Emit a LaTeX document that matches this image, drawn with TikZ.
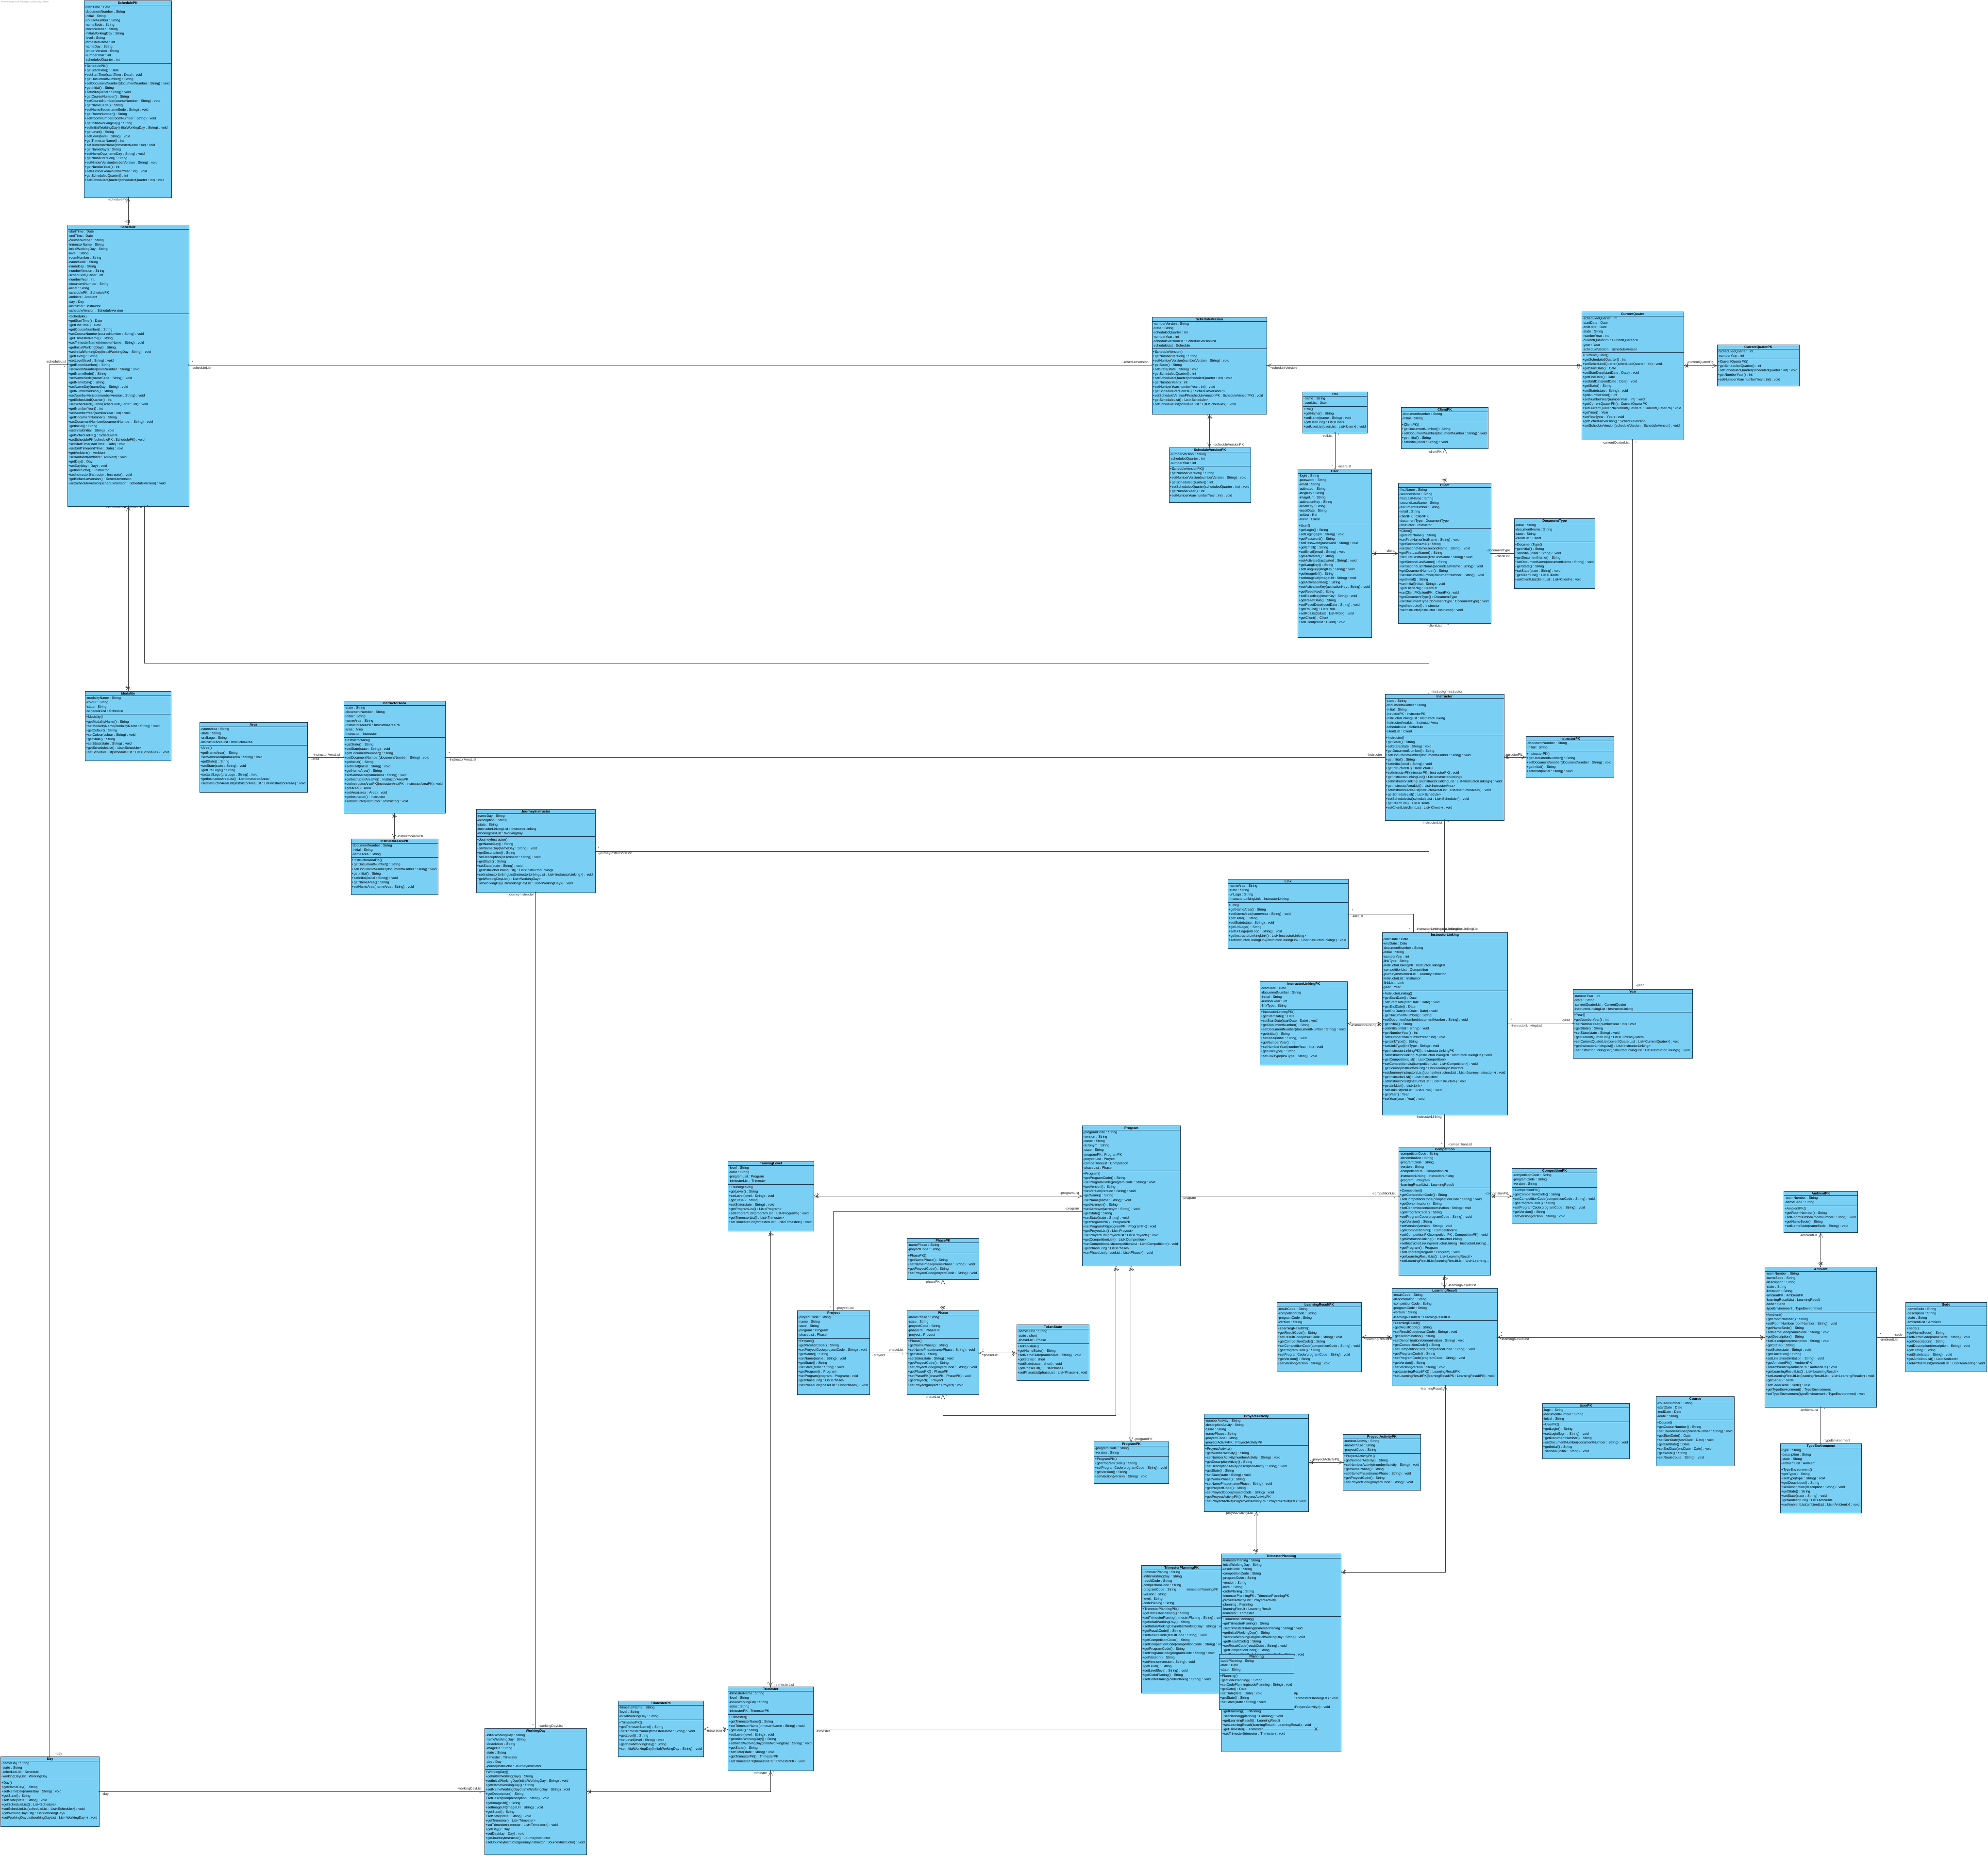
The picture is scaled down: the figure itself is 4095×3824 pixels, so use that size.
\documentclass[tikz,border=0pt]{standalone}
\usepackage{fontspec}
\setmainfont{Liberation Sans}
\usetikzlibrary{arrows.meta,calc,decorations.markings}
\definecolor{classfill}{HTML}{7ACFF5}
\definecolor{classline}{HTML}{1D3A55}
\definecolor{wire}{HTML}{3A3A3A}
\newcommand\umlfont{\fontsize{7}{9.05}\selectfont}
\newcommand\umlbold{\fontsize{7}{9.05}\selectfont\bfseries}
\tikzset{
  classbox/.style={draw=classline, fill=classfill, line width=0.9pt, inner sep=0pt, outer sep=0pt, anchor=north west},
  rule/.style={draw=classline, line width=0.7pt},
  txt/.style={font=\umlfont, align=left, inner sep=0pt, anchor=north west, text=black},
  ttl/.style={font=\umlbold, inner sep=0pt, anchor=base, text=black},
  lbl/.style={font=\umlfont, inner sep=0pt, text=black!85},
  wirestyle/.style={draw=wire, line width=0.7pt},
  dotS/.style={postaction={decorate, decoration={markings, mark=at position 0pt with {\fill[wire] (0pt,0pt) circle (1.7pt);}}}},
  dotE/.style={postaction={decorate, decoration={markings, mark=at position 0.99999 with {\fill[wire] (0pt,0pt) circle (1.7pt);}}}},
  crossS/.style={postaction={decorate, decoration={markings, mark=at position 6.5pt with {\draw[wire, line width=0.7pt] (-3pt,-4pt) -- (3pt,4pt) (-3pt,4pt) -- (3pt,-4pt);}}}},
  crossE/.style={postaction={decorate, decoration={markings, mark=at position -6.5pt with {\draw[wire, line width=0.7pt] (-3pt,-4pt) -- (3pt,4pt) (-3pt,4pt) -- (3pt,-4pt);}}}},
  barbS/.style={arrows={Straight Barb[length=9pt,width=8pt]-}},
  barbE/.style={arrows={-Straight Barb[length=9pt,width=8pt]}},
}
% id, x, y, width, height, number of attributes, title, attributes, operations
\newcommand{\umlclass}[9]{%
  \node[classbox, minimum width=#4pt, minimum height=#5pt] (#1) at (#2,#3) {};
  \node[ttl] (#1-t) at ({#2+#4/2},{#3+7.1}) {#7};
  \draw[rule] (#2,{#3+9}) -- ++(#4,0);
  \node[txt] (#1-a) at ({#2+1.5},{#3+9.7}) {\strut#8};
  \draw[rule] (#2,{#3+11.5+#6*9.05}) -- ++(#4,0);
  \node[txt] (#1-m) at ({#2+1.5},{#3+13.2+#6*9.05}) {\strut#9};
}
\newcommand{\lb}[4]{\node[lbl, anchor=#2] (#1) at (#3) {#4};}
\begin{document}
\begin{tikzpicture}[x=1pt,y=-1pt]
\fill[white] (0,0) rectangle (4095,3824);
\useasboundingbox (0,0) rectangle (4095,3824);

\node[font=\fontsize{4.6}{5}\selectfont, text=black!40, inner sep=0pt, anchor=north west] (mark) at (2,2) {Powered ByVisual Paradigm Community Edition};

% ---------------- classes ----------------
\umlclass{spk}{173}{1}{180}{406}{13}{SchedulePK}{-startTime : Date\\-documentNumber : String\\-initial : String\\-courseNumber : String\\-nameSede : String\\-roomNumber : String\\-initialWorkingDay : String\\-level : String\\-trimesterName : int\\-nameDay : String\\-nmberVersion : String\\-numberYear : int\\-scheduledQuarter : int}{+SchedulePK()\\+getStartTime() : Date\\+setStartTime(startTime : Date) : void\\+getDocumentNumber() : String\\+setDocumentNumber(documentNumber : String) : void\\+getInitial() : String\\+setInitial(initial : String) : void\\+getCourseNumber() : String\\+setCourseNumber(courseNumber : String) : void\\+getNameSede() : String\\+setNameSede(nameSede : String) : void\\+getRoomNumber() : String\\+setRoomNumber(roomNumber : String) : void\\+getInitialWorkingDay() : String\\+setInitialWorkingDay(initialWorkingDay : String) : void\\+getLevel() : String\\+setLevel(level : String) : void\\+getTrimesterName() : int\\+setTrimesterName(trimesterName : int) : void\\+getNameDay() : String\\+setNameDay(nameDay : String) : void\\+getNmberVersion() : String\\+setNmberVersion(nmberVersion : String) : void\\+getNumberYear() : int\\+setNumberYear(numberYear : int) : void\\+getScheduledQuarter() : int\\+setScheduledQuarter(scheduledQuarter : int) : void}

\umlclass{sch}{139}{463}{250}{580}{19}{Schedule}{-startTime : Date\\-endTime : Date\\-courseNumber : String\\-trimesterName : String\\-initialWorkingDay : String\\-level : String\\-roomNumber : String\\-nameSede : String\\-nameDay : String\\-numberVersion : String\\-scheduledQuarter : int\\-numberYear : int\\-documentNumber : String\\-initial : String\\-schedulePK : SchedulePK\\-ambient : Ambient\\-day : Day\\-instructor : Instructor\\-scheduleVersion : ScheduleVersion}{+Schedule()\\+getStartTime() : Date\\+getEndTime() : Date\\+getCourseNumber() : String\\+setCourseNumber(courseNumber : String) : void\\+getTrimesterName() : String\\+setTrimesterName(trimesterName : String) : void\\+getInitialWorkingDay() : String\\+setInitialWorkingDay(initialWorkingDay : String) : void\\+getLevel() : String\\+setLevel(level : String) : void\\+getRoomNumber() : String\\+setRoomNumber(roomNumber : String) : void\\+getNameSede() : String\\+setNameSede(nameSede : String) : void\\+getNameDay() : String\\+setNameDay(nameDay : String) : void\\+getNumberVersion() : String\\+setNumberVersion(numberVersion : String) : void\\+getScheduledQuarter() : int\\+setScheduledQuarter(scheduledQuarter : int) : void\\+getNumberYear() : int\\+setNumberYear(numberYear : int) : void\\+getDocumentNumber() : String\\+setDocumentNumber(documentNumber : String) : void\\+getInitial() : String\\+setInitial(initial : String) : void\\+getSchedulePK() : SchedulePK\\+setSchedulePK(schedulePK : SchedulePK) : void\\+setStartTime(startTime : Date) : void\\+setEndTime(endTime : Date) : void\\+getAmbient() : Ambient\\+setAmbient(ambient : Ambient) : void\\+getDay() : Day\\+setDay(day : Day) : void\\+getInstructor() : Instructor\\+setInstructor(instructor : Instructor) : void\\+getScheduleVersion() : ScheduleVersion\\+setScheduleVersion(scheduleVersion : ScheduleVersion) : void}

\umlclass{mod}{175.5}{1424}{177}{143}{4}{Modality}{-modalityName : String\\-colour : String\\-state : String\\-scheduleList : Schedule}{+Modality()\\+getModalityName() : String\\+setModalityName(modalityName : String) : void\\+getColour() : String\\+setColour(colour : String) : void\\+getState() : String\\+setState(state : String) : void\\+getScheduleList() : List<Schedule>\\+setScheduleList(scheduleList : List<Schedule>) : void}

\umlclass{area}{411}{1488}{222.5}{144}{4}{Area}{-nameArea : String\\-state : String\\-uralLogo : String\\-instructorAreaList : InstructorArea}{+Area()\\+getNameArea() : String\\+setNameArea(nameArea : String) : void\\+getState() : String\\+setState(state : String) : void\\+getUralLogo() : String\\+setUralLogo(uralLogo : String) : void\\+getInstructorAreaList() : List<InstructorArea>\\+setInstructorAreaList(instructorAreaList : List<InstructorArea>) : void}

\umlclass{ia}{708}{1444}{209}{231}{7}{InstructorArea}{-state : String\\-documentNumber : String\\-initial : String\\-nameArea : String\\-instructorAreaPK : InstructorAreaPK\\-area : Area\\-instructor : Instructor}{+InstructorArea()\\+getState() : String\\+setState(state : String) : void\\+getDocumentNumber() : String\\+setDocumentNumber(documentNumber : String) : void\\+getInitial() : String\\+setInitial(initial : String) : void\\+getNameArea() : String\\+setNameArea(nameArea : String) : void\\+getInstructorAreaPK() : InstructorAreaPK\\+setInstructorAreaPK(instructorAreaPK : InstructorAreaPK) : void\\+getArea() : Area\\+setArea(area : Area) : void\\+getInstructor() : Instructor\\+setInstructor(instructor : Instructor) : void}

\umlclass{iapk}{723}{1728}{179.5}{115}{3}{InstructorAreaPK}{-documentNumber : String\\-initial : String\\-nameArea : String}{+InstructorAreaPK()\\+getDocumentNumber() : String\\+setDocumentNumber(documentNumber : String) : void\\+getInitial() : String\\+setInitial(initial : String) : void\\+getNameArea() : String\\+setNameArea(nameArea : String) : void}

\umlclass{ji}{981}{1667}{245.5}{172}{5}{JourneyInstructor}{-nameDay : String\\-description : String\\-state : String\\-instructorLinkingList : InstructorLinking\\-workingDayList : WorkingDay}{+JourneyInstructor()\\+getNameDay() : String\\+setNameDay(nameDay : String) : void\\+getDescription() : String\\+setDescription(description : String) : void\\+getState() : String\\+setState(state : String) : void\\+getInstructorLinkingList() : List<InstructorLinking>\\+setInstructorLinkingList(instructorLinkingList : List<InstructorLinking>) : void\\+getWorkingDayList() : List<WorkingDay>\\+setWorkingDayList(workingDayList : List<WorkingDay>) : void}

\umlclass{sv}{2373}{653}{236.5}{200}{6}{ScheduleVersion}{-numberVersion : String\\-state : String\\-scheduledQuarter : int\\-numberYear : int\\-scheduleVersionPK : ScheduleVersionPK\\-scheduleList : Schedule}{+ScheduleVersion()\\+getNumberVersion() : String\\+setNumberVersion(numberVersion : String) : void\\+getState() : String\\+setState(state : String) : void\\+getScheduledQuarter() : int\\+setScheduledQuarter(scheduledQuarter : int) : void\\+getNumberYear() : int\\+setNumberYear(numberYear : int) : void\\+getScheduleVersionPK() : ScheduleVersionPK\\+setScheduleVersionPK(scheduleVersionPK : ScheduleVersionPK) : void\\+getScheduleList() : List<Schedule>\\+setScheduleList(scheduleList : List<Schedule>) : void}

\umlclass{svpk}{2408}{922}{168.5}{113.5}{3}{ScheduleVersionPK}{-numberVersion : String\\-scheduledQuarter : int\\-numberYear : int}{+ScheduleVersionPK()\\+getNumberVersion() : String\\+setNumberVersion(numberVersion : String) : void\\+getScheduledQuarter() : int\\+setScheduledQuarter(scheduledQuarter : int) : void\\+getNumberYear() : int\\+setNumberYear(numberYear : int) : void}

\umlclass{rol}{2683.5}{807.5}{133}{84.5}{2}{Rol}{-name : String\\-userList : User}{+Rol()\\+getName() : String\\+setName(name : String) : void\\+getUserList() : List<User>\\+setUserList(userList : List<User>) : void}

\umlclass{user}{2673.5}{966}{152}{347}{11}{User}{-login : String\\-password : String\\-email : String\\-activated : String\\-langKey : String\\-imageUrl : String\\-activationKey : String\\-resetKey : String\\-resetDate : String\\-rolList : Rol\\-client : Client}{+User()\\+getLogin() : String\\+setLogin(login : String) : void\\+getPassword() : String\\+setPassword(password : String) : void\\+getEmail() : String\\+setEmail(email : String) : void\\+getActivated() : String\\+setActivated(activated : String) : void\\+getLangKey() : String\\+setLangKey(langKey : String) : void\\+getImageUrl() : String\\+setImageUrl(imageUrl : String) : void\\+getActivationKey() : String\\+setActivationKey(activationKey : String) : void\\+getResetKey() : String\\+setResetKey(resetKey : String) : void\\+getResetDate() : String\\+setResetDate(resetDate : String) : void\\+getRolList() : List<Rol>\\+setRolList(rolList : List<Rol>) : void\\+getClient() : Client\\+setClient(client : Client) : void}

\umlclass{cpk}{2886}{839.5}{179.5}{85}{2}{ClientPK}{-documentNumber : String\\-initial : String}{+ClientPK()\\+getDocumentNumber() : String\\+setDocumentNumber(documentNumber : String) : void\\+getInitial() : String\\+setInitial(initial : String) : void}

\umlclass{cli}{2880.5}{995.5}{191}{288.5}{9}{Client}{-firstName : String\\-secondName : String\\-firstLastName : String\\-secondLastName : String\\-documentNumber : String\\-initial : String\\-clientPK : ClientPK\\-documentType : DocumentType\\-instructor : Instructor}{+Client()\\+getFirstName() : String\\+setFirstName(firstName : String) : void\\+getSecondName() : String\\+setSecondName(secondName : String) : void\\+getFirstLastName() : String\\+setFirstLastName(firstLastName : String) : void\\+getSecondLastName() : String\\+setSecondLastName(secondLastName : String) : void\\+getDocumentNumber() : String\\+setDocumentNumber(documentNumber : String) : void\\+getInitial() : String\\+setInitial(initial : String) : void\\+getClientPK() : ClientPK\\+setClientPK(clientPK : ClientPK) : void\\+getDocumentType() : DocumentType\\+setDocumentType(documentType : DocumentType) : void\\+getInstructor() : Instructor\\+setInstructor(instructor : Instructor) : void}

\umlclass{dt}{3119}{1068.5}{166.5}{143.5}{4}{DocumentType}{-initial : String\\-documentName : String\\-state : String\\-clientList : Client}{+DocumentType()\\+getInitial() : String\\+setInitial(initial : String) : void\\+getDocumentName() : String\\+setDocumentName(documentName : String) : void\\+getState() : String\\+setState(state : String) : void\\+getClientList() : List<Client>\\+setClientList(clientList : List<Client>) : void}

\umlclass{cq}{3258}{642.5}{210}{264}{8}{CurrentQuater}{-scheduledQuarter : int\\-startDate : Date\\-endDate : Date\\-state : String\\-numberYear : int\\-currentQuaterPK : CurrentQuaterPK\\-year : Year\\-scheduleVersion : ScheduleVersion}{+CurrentQuater()\\+getScheduledQuarter() : int\\+setScheduledQuarter(scheduledQuarter : int) : void\\+getStartDate() : Date\\+setStartDate(startDate : Date) : void\\+getEndDate() : Date\\+setEndDate(endDate : Date) : void\\+getState() : String\\+setState(state : String) : void\\+getNumberYear() : int\\+setNumberYear(numberYear : int) : void\\+getCurrentQuaterPK() : CurrentQuaterPK\\+setCurrentQuaterPK(currentQuaterPK : CurrentQuaterPK) : void\\+getYear() : Year\\+setYear(year : Year) : void\\+getScheduleVersion() : ScheduleVersion\\+setScheduleVersion(scheduleVersion : ScheduleVersion) : void}

\umlclass{cqpk}{3537}{710}{169.5}{85}{2}{CurrentQuaterPK}{-ScheduledQuarter : int\\-numberYear : int}{+CurrentQuaterPK()\\+getScheduledQuarter() : int\\+setScheduledQuarter(scheduledQuarter : int) : void\\+getNumberYear() : int\\+setNumberYear(numberYear : int) : void}

\umlclass{ins}{2853}{1430}{245}{260}{8}{Instructor}{-state : String\\-documentNumber : String\\-initial : String\\-intructorPK : InstructorPK\\-instructorLinkingList : InstructorLinking\\-instructorAreaList : InstructorArea\\-scheduleList : Schedule\\-clientList : Client}{+Instructor()\\+getState() : String\\+setState(state : String) : void\\+getDocumentNumber() : String\\+setDocumentNumber(documentNumber : String) : void\\+getInitial() : String\\+setInitial(initial : String) : void\\+getIntructorPK() : InstructorPK\\+setIntructorPK(intructorPK : InstructorPK) : void\\+getInstructorLinkingList() : List<InstructorLinking>\\+setInstructorLinkingList(instructorLinkingList : List<InstructorLinking>) : void\\+getInstructorAreaList() : List<InstructorArea>\\+setInstructorAreaList(instructorAreaList : List<InstructorArea>) : void\\+getScheduleList() : List<Schedule>\\+setScheduleList(scheduleList : List<Schedule>) : void\\+getClientList() : List<Client>\\+setClientList(clientList : List<Client>) : void}

\umlclass{ipk}{3143}{1517.5}{181.5}{85}{2}{InstructorPK}{-documentNumber : String\\-initial : String}{+InstructorPK()\\+getDocumentNumber() : String\\+setDocumentNumber(documentNumber : String) : void\\+getInitial() : String\\+setInitial(initial : String) : void}

\umlclass{link}{2529}{1811.5}{248.5}{142.5}{4}{Link}{-nameArea : String\\-state : String\\-urlLogo : String\\-instructorLinkingLink : InstructorLinking}{+Link()\\+getNameArea() : String\\+setNameArea(nameArea : String) : void\\+getState() : String\\+setState(state : String) : void\\+getUrlLogo() : String\\+setUrlLogo(urlLogo : String) : void\\+getInstructorLinkingLink() : List<InstructorLinking>\\+setInstructorLinkingLink(instructorLinkingLink : List<InstructorLinking>) : void}

\umlclass{ilpk}{2595.5}{2022.5}{180}{172}{5}{InstructorLinkingPK}{-startDate : Date\\-documentNumber : String\\-initial : String\\-numberYear : int\\-linkType : String}{+InstructorLinkingPK()\\+getStartDate() : Date\\+setStartDate(startDate : Date) : void\\+getDocumentNumber() : String\\+setDocumentNumber(documentNumber : String) : void\\+getInitial() : String\\+setInitial(initial : String) : void\\+getNumberYear() : int\\+setNumberYear(numberYear : int) : void\\+getLinkType() : String\\+setLinkType(linkType : String) : void}

\umlclass{il}{2847}{1921}{258.5}{376.5}{12}{InstructorLinking}{-startDate : Date\\-endDate : Date\\-documentNumber : String\\-initial : String\\-numberYear : int\\-linkType : String\\-instructorLinkingPK : InstructorLinkingPK\\-competitionList : Competition\\-journeyInstructorsList : JourneyInstructor\\-instructorList : Instructor\\-linkList : Link\\-year : Year}{+InstructorLinking()\\+getStartDate() : Date\\+setStartDate(startDate : Date) : void\\+getEndDate() : Date\\+setEndDate(endDate : Date) : void\\+getDocumentNumber() : String\\+setDocumentNumber(documentNumber : String) : void\\+getInitial() : String\\+setInitial(initial : String) : void\\+getNumberYear() : int\\+setNumberYear(numberYear : int) : void\\+getLinkType() : String\\+setLinkType(linkType : String) : void\\+getInstructorLinkingPK() : InstructorLinkingPK\\+setInstructorLinkingPK(instructorLinkingPK : InstructorLinkingPK) : void\\+getCompetitionList() : List<Competition>\\+setCompetitionList(competitionList : List<Competition>) : void\\+getJourneyInstructorsList() : List<JourneyInstructor>\\+setJourneyInstructorsList(journeyInstructorsList : List<JourneyInstructor>) : void\\+getInstructorList() : List<Instructor>\\+setInstructorList(instructorList : List<Instructor>) : void\\+getLinkList() : List<Link>\\+setLinkList(linkList : List<Link>) : void\\+getYear() : Year\\+setYear(year : Year) : void}

\umlclass{year}{3240.5}{2038}{246}{142}{4}{Year}{-numberYear : int\\-state : String\\-currentQuaterList : CurrentQuater\\-instructorLinkingList : InstructorLinking}{+Year()\\+getNumberYear() : int\\+setNumberYear(numberYear : int) : void\\+getState() : String\\+setState(state : String) : void\\+getCurrentQuaterList() : List<CurrentQuater>\\+setCurrentQuaterList(currentQuaterList : List<CurrentQuater>) : void\\+getInstructorLinkingList() : List<InstructorLinking>\\+setInstructorLinkingList(instructorLinkingList : List<InstructorLinking>) : void}

\umlclass{prog}{2229.5}{2319.5}{202}{289}{9}{Program}{-programCode : String\\-version : String\\-name : String\\-acronym : String\\-state : String\\-programPK : ProgramPK\\-proyectList : Proyect\\-competitionList : Competition\\-phaseList : Phase}{+Program()\\+getProgramCode() : String\\+setProgramCode(programCode : String) : void\\+getVersion() : String\\+setVersion(version : String) : void\\+getName() : String\\+setName(name : String) : void\\+getAcronym() : String\\+setAcronym(acronym : String) : void\\+getState() : String\\+setState(state : String) : void\\+getProgramPK() : ProgramPK\\+setProgramPK(programPK : ProgramPK) : void\\+getProyectList() : List<Proyect>\\+setProyectList(proyectList : List<Proyect>) : void\\+getCompetitionList() : List<Competition>\\+setCompetitionList(competitionList : List<Competition>) : void\\+getPhaseList() : List<Phase>\\+setPhaseList(phaseList : List<Phase>) : void}

\umlclass{tl}{1499.5}{2392.5}{177}{144}{4}{TrainingLevel}{-level : String\\-state : String\\-programList : Program\\-trimesterList : Trimester}{+TrainingLevel()\\+getLevel() : String\\+setLevel(level : String) : void\\+getState() : String\\+setState(state : String) : void\\+getProgramList() : List<Program>\\+setProgramList(programList : List<Program>) : void\\+getTrimesterList() : List<Trimester>\\+setTrimesterList(trimesterList : List<Trimester>) : void}

\umlclass{comp}{2881.5}{2363.5}{189}{264}{8}{Competition}{-competitionCode : String\\-denomination : String\\-programCode : String\\-version : String\\-competitionPK : CompetitionPK\\-instructorLinking : InstructorLinking\\-program : Program\\-learningResultList : LearningResult}{+Competition()\\+getCompetitionCode() : String\\+setCompetitionCode(competitionCode : String) : void\\+getDenomination() : String\\+setDenomination(denomination : String) : void\\+getProgramCode() : String\\+setProgramCode(programCode : String) : void\\+getVersion() : String\\+setVersion(version : String) : void\\+getCompetitionPK() : CompetitionPK\\+setCompetitionPK(competitionPK : CompetitionPK) : void\\+getInstructorLinking() : InstructorLinking\\+setInstructorLinking(instructorLinking : InstructorLinking)...\\+getProgram() : Program\\+setProgram(program : Program) : void\\+getLearningResultList() : List<LearningResult>\\+setLearningResultList(learningResultList : List<Learning...}

\umlclass{cpkb}{3114.5}{2407.5}{175}{114}{3}{CompetitionPK}{-competitionCode : String\\-programCode : String\\-version : String}{+CompetitionPK()\\+getCompetitionCode() : String\\+setCompetitionCode(competitionCode : String) : void\\+getProgramCode() : String\\+setProgramCode(programCode : String) : void\\+getVersion() : String\\+setVersion(version : String) : void}

\umlclass{apk}{3674.5}{2454.5}{152}{85}{2}{AmbientPK}{-roomNumber : String\\-nameSede : String}{+AmbientPK()\\+getRoomNumber() : String\\+setRoomNumber(roomNumber : String) : void\\+getNameSede() : String\\+setNameSede(nameSede : String) : void}

\umlclass{amb}{3635.5}{2610}{230}{289.5}{9}{Ambient}{-roomNumber : String\\-nameSede : String\\-description : String\\-state : String\\-limitation : String\\-ambientPK : AmbientPK\\-learningResultList : LearningResult\\-sede : Sede\\-typeEnvironment : TypeEnvironment}{+Ambient()\\+getRoomNumber() : String\\+setRoomNumber(roomNumber : String) : void\\+getNameSede() : String\\+setNameSede(nameSede : String) : void\\+getDescription() : String\\+setDescription(description : String) : void\\+getState() : String\\+setState(state : String) : void\\+getLimitation() : String\\+setLimitation(limitation : String) : void\\+getAmbientPK() : AmbientPK\\+setAmbientPK(ambientPK : AmbientPK) : void\\+getLearningResultList() : List<LearningResult>\\+setLearningResultList(learningResultList : List<LearningResult>) : void\\+getSede() : Sede\\+setSede(sede : Sede) : void\\+getTypeEnvironment() : TypeEnvironment\\+setTypeEnvironment(typeEnvironment : TypeEnvironment) : void}

\umlclass{sede}{3925.5}{2683.5}{166.5}{143}{4}{Sede}{-nameSede : String\\-description : String\\-state : String\\-ambientList : Ambient}{+Sede()\\+getNameSede() : String\\+setNameSede(nameSede : String) : void\\+getDescription() : String\\+setDescription(description : String) : void\\+getState() : String\\+setState(state : String) : void\\+getAmbientList() : List<Ambient>\\+setAmbientList(ambientList : List<Ambient>) : void}

\umlclass{te}{3667.5}{2974.5}{167}{142.5}{4}{TypeEnvironment}{-type : String\\-description : String\\-state : String\\-ambientList : Ambient}{+TypeEnvironment()\\+getType() : String\\+setType(type : String) : void\\+getDescription() : String\\+setDescription(description : String) : void\\+getState() : String\\+setState(state : String) : void\\+getAmbientList() : List<Ambient>\\+setAmbientList(ambientList : List<Ambient>) : void}

\umlclass{course}{3411.5}{2877.5}{161}{143}{4}{Course}{-couserNumber : String\\-startDate : Date\\-endDate : Date\\-route : String}{+Course()\\+getCouserNumber() : String\\+setCouserNumber(couserNumber : String) : void\\+getStartDate() : Date\\+setStartDate(startDate : Date) : void\\+getEndDate() : Date\\+setEndDate(endDate : Date) : void\\+getRoute() : String\\+setRoute(route : String) : void}

\umlclass{upk}{3177}{2891}{179.5}{114}{3}{UserPK}{-login : String\\-documentNumber : String\\-initial : String}{+UserPK()\\+getLogin() : String\\+setLogin(login : String) : void\\+getDocumentNumber() : String\\+setDocumentNumber(documentNumber : String) : void\\+getInitial() : String\\+setInitial(initial : String) : void}

\umlclass{lr}{2867.5}{2654.5}{216.5}{200.5}{6}{LearningResult}{-resultCode : String\\-denomination : String\\-competitionCode : String\\-programCode : String\\-version : String\\-learningResultPK : LearningResultPK}{+LearningResult()\\+getResultCode() : String\\+setResultCode(resultCode : String) : void\\+getDenomination() : String\\+setDenomination(denomination : String) : void\\+getCompetitionCode() : String\\+setCompetitionCode(competitionCode : String) : void\\+getProgramCode() : String\\+setProgramCode(programCode : String) : void\\+getVersion() : String\\+setVersion(version : String) : void\\+getLearningResultPK() : LearningResultPK\\+setLearningResultPK(learningResultPK : LearningResultPK) : void}

\umlclass{lrpk}{2630.5}{2683.5}{174}{143}{4}{LearningResultPK}{-resultCode : String\\-competitionCode : String\\-programCode : String\\-version : String}{+LearningResultPK()\\+getResultCode() : String\\+setResultCode(resultCode : String) : void\\+getCompetitionCode() : String\\+setCompetitionCode(competitionCode : String) : void\\+getProgramCode() : String\\+setProgramCode(programCode : String) : void\\+getVersion() : String\\+setVersion(version : String) : void}

\umlclass{phpk}{1868.5}{2551.5}{148}{85}{2}{PhasePK}{-namePhase : String\\-proyectCode : String}{+PhasePK()\\+getNamePhase() : String\\+setNamePhase(namePhase : String) : void\\+getProyectCode() : String\\+setProyectCode(proyectCode : String) : void}

\umlclass{proy}{1642.5}{2700.5}{149}{173}{5}{Proyect}{-proyectCode : String\\-name : String\\-state : String\\-program : Program\\-phaseList : Phase}{+Proyect()\\+getProyectCode() : String\\+setProyectCode(proyectCode : String) : void\\+getName() : String\\+setName(name : String) : void\\+getState() : String\\+setState(state : String) : void\\+getProgram() : Program\\+setProgram(program : Program) : void\\+getPhaseList() : List<Phase>\\+setPhaseList(phaseList : List<Phase>) : void}

\umlclass{phase}{1868.5}{2700.5}{148}{173}{5}{Phase}{-namePhase : String\\-state : String\\-proyectCode : String\\-phasePK : PhasePK\\-proyect : Proyect}{+Phase()\\+getNamePhase() : String\\+setNamePhase(namePhase : String) : void\\+getState() : String\\+setState(state : String) : void\\+getProyectCode() : String\\+setProyectCode(proyectCode : String) : void\\+getPhasePK() : PhasePK\\+setPhasePK(phasePK : PhasePK) : void\\+getProyect() : Proyect\\+setProyect(proyect : Proyect) : void}

\umlclass{ts}{2094.5}{2729.5}{149}{115}{3}{TokenState}{-nameState : String\\-state : short\\-phaseList : Phase}{+TokenState()\\+getNameState() : String\\+setNameState(nameState : String) : void\\+getState() : short\\+setState(state : short) : void\\+getPhaseList() : List<Phase>\\+setPhaseList(phaseList : List<Phase>) : void}

\umlclass{pa}{2480.5}{2913}{215}{201}{6}{ProyectActivity}{-numberActivity : String\\-descriptionAtivity : String\\-State : String\\-namePhase : String\\-proyectCode : String\\-proyectActivityPK : ProyectActivityPK}{+ProyectActivity()\\+getNumberActivity() : String\\+setNumberActivity(numberActivity : String) : void\\+getDescriptionAtivity() : String\\+setDescriptionAtivity(descriptionAtivity : String) : void\\+getState() : String\\+setState(state : String) : void\\+getNamePhase() : String\\+setNamePhase(namePhase : String) : void\\+getProyectCode() : String\\+setProyectCode(proyectCode : String) : void\\+getProyectActivityPK() : ProyectActivityPK\\+setProyectActivityPK(proyectActivityPK : ProyectActivityPK) : void}

\umlclass{papk}{2766.5}{2955.5}{160}{114.5}{3}{ProyectActivityPK}{-numberActivity : String\\-namePhase : String\\-proyectCode : String}{+ProyectActivityPK()\\+getNumberActivity() : String\\+setNumberActivity(numberActivity : String) : void\\+getNamePhase() : String\\+setNamePhase(namePhase : String) : void\\+getProyectCode() : String\\+setProyectCode(proyectCode : String) : void}

\umlclass{ppk}{2253.5}{2970.5}{154}{85.5}{2}{ProgramPK}{-programCode : String\\-version : String}{+ProgramPK()\\+getProgramCode() : String\\+setProgramCode(programCode : String) : void\\+getVersion() : String\\+setVersion(version : String) : void}

\umlclass{tppk}{2351.5}{3225.5}{164.5}{262.5}{8}{TrimesterPlanningPK}{-trimesterPlaning : String\\-initialWorkingDay : String\\-resultCode : String\\-competitionCode : String\\-programCode : String\\-version : String\\-level : String\\-codePlaning : String}{+TrimesterPlanningPK()\\+getTrimesterPlaning() : String\\+setTrimesterPlaning(trimesterPlaning : String) : void\\+getInitialWorkingDay() : String\\+setInitialWorkingDay(initialWorkingDay : String) : void\\+getResultCode() : String\\+setResultCode(resultCode : String) : void\\+getCompetitionCode() : String\\+setCompetitionCode(competitionCode : String) : void\\+getProgramCode() : String\\+setProgramCode(programCode : String) : void\\+getVersion() : String\\+setVersion(version : String) : void\\+getLevel() : String\\+setLevel(level : String) : void\\+getCodePlaning() : String\\+setCodePlaning(codePlaning : String) : void}

\umlclass{tp}{2516}{3201.5}{246}{407.5}{13}{TrimesterPlanning}{-trimesterPlaning : String\\-initialWorkingDay : String\\-resultCode : String\\-competitionCode : String\\-programCode : String\\-version : String\\-level : String\\-codePlaning : String\\-trimesterPlanningPK : TrimesterPlanningPK\\-proyectActivityList : ProyectActivity\\-planning : Planning\\-learningResult : LearningResult\\-trimester : Trimester}{+TrimesterPlanning()\\+getTrimesterPlaning() : String\\+setTrimesterPlaning(trimesterPlaning : String) : void\\+getInitialWorkingDay() : String\\+setInitialWorkingDay(initialWorkingDay : String) : void\\+getResultCode() : String\\+setResultCode(resultCode : String) : void\\+getCompetitionCode() : String\\+setCompetitionCode(competitionCode : String) : void\\+getProgramCode() : String\\+setProgramCode(programCode : String) : void\\+getVersion() : String\\+setVersion(version : String) : void\\+getLevel() : String\\+setLevel(level : String) : void\\+getCodePlaning() : String\\+setCodePlaning(codePlaning : String) : void\\+getTrimesterPlanningPK() : TrimesterPlanningPK\\+setTrimesterPlanningPK(trimesterPlanningPK : TrimesterPlanningPK) : void\\+getProyectActivityList() : List<ProyectActivity>\\+setProyectActivityList(proyectActivityList : List<ProyectActivity>) : void\\+getPlanning() : Planning\\+setPlanning(planning : Planning) : void\\+getLearningResult() : LearningResult\\+setLearningResult(learningResult : LearningResult) : void\\+getTrimester() : Trimester\\+setTrimester(trimester : Trimester) : void}

\umlclass{plan}{2511.5}{3408.5}{153.5}{113.5}{3}{Planning}{-codePlanning : String\\-date : Date\\-state : String}{+Planning()\\+getCodePlanning() : String\\+setCodePlanning(codePlanning : String) : void\\+getDate() : Date\\+setDate(date : Date) : void\\+getState() : String\\+setState(state : String) : void}

\umlclass{tri}{1499.5}{3475.5}{176}{173}{5}{Trimester}{-trimesterName : String\\-level : String\\-initialWorkingDay : String\\-state : String\\-trimesterPK : TrimesterPK}{+Trimester()\\+getTrimesterName() : String\\+setTrimesterName(trimesterName : String) : void\\+getLevel() : String\\+setLevel(level : String) : void\\+getInitialWorkingDay() : String\\+setInitialWorkingDay(initialWorkingDay : String) : void\\+getState() : String\\+setState(state : String) : void\\+getTrimesterPK() : TrimesterPK\\+setTrimesterPK(trimesterPK : TrimesterPK) : void}

\umlclass{tpk}{1273.5}{3504.5}{176}{115}{3}{TrimesterPK}{-trimesterName : String\\-level : String\\-initialWorkingDay : String}{+TrimesterPK()\\+getTrimesterName() : String\\+setTrimesterName(trimesterName : String) : void\\+getLevel() : String\\+setLevel(level : String) : void\\+getInitialWorkingDay() : String\\+setInitialWorkingDay(initialWorkingDay : String) : void}

\umlclass{wd}{998.5}{3561.5}{210}{260}{8}{WorkingDay}{-initialWorkingDay : String\\-nameWorkingDay : String\\-description : String\\-imageUrl : String\\-state : String\\-trimester : Trimester\\-day : Day\\-journeyInstructor : JourneyInstructor}{+WorkingDay()\\+getInitialWorkingDay() : String\\+setInitialWorkingDay(initialWorkingDay : String) : void\\+getNameWorkingDay() : String\\+setNameWorkingDay(nameWorkingDay : String) : void\\+getDescription() : String\\+setDescription(description : String) : void\\+getImageUrl() : String\\+setImageUrl(imageUrl : String) : void\\+getState() : String\\+setState(state : String) : void\\+getTrimester() : List<Trimester>\\+setTrimester(trimester : List<Trimester>) : void\\+getDay() : Day\\+setDay(day : Day) : void\\+getJourneyInstructor() : JourneyInstructor\\+setJourneyInstructor(journeyInstructor : JourneyInstructor) : void}

\umlclass{day}{1.5}{3619.5}{203}{144}{4}{Day}{-nameDay : String\\-state : String\\-scheduleList : Schedule\\-workingDayList : WorkingDay}{+Day()\\+getNameDay() : String\\+setNameDay(nameDay : String) : void\\+getState() : String\\+setState(state : String) : void\\+getScheduleList() : List<Schedule>\\+setScheduleList(scheduleList : List<Schedule>) : void\\+getWorkingDayList() : List<WorkingDay>\\+setWorkingDayList(workingDayList : List<WorkingDay>) : void}

% ---------------- associations ----------------
\draw[wirestyle, dotS, barbS, crossE] ($(spk.south west)+(91.3,0)$) -- ($(sch.north west)+(125.3,0)$);
\draw[wirestyle, dotS, dotE] ($(sch.north west)+(0,287.5)$) -| ($(day.north west)+(100.8,0)$);
\draw[wirestyle, dotS, dotE] ($(sch.north east)+(0,289)$) -- ($(sv.north west)+(0,99)$);
\draw[wirestyle, dotS, barbS, crossE] ($(sv.north east)+(0,100.5)$) -- ($(cq.north west)+(0,111)$);
\draw[wirestyle, crossS, dotE, barbE] ($(cq.north east)+(0,111)$) -- ($(cqpk.north west)+(0,43.5)$);
\draw[wirestyle, dotS, dotE] ($(cq.south west)+(104.3,0)$) -- ($(year.north west)+(121.8,0)$);
\draw[wirestyle, crossS, dotE, barbE] ($(sv.south west)+(118.3,0)$) -- ($(svpk.north west)+(83.3,0)$);
\draw[wirestyle, dotS, dotE] ($(rol.south west)+(66.5,0)$) -- ($(user.north west)+(76.5,0)$);
\draw[wirestyle, crossS, dotE, barbE] ($(user.north east)+(0,174.5)$) -- ($(cli.north west)+(0,145)$);
\draw[wirestyle, dotS, barbS, crossE] ($(cpk.south west)+(90,0)$) -- ($(cli.north west)+(95.5,0)$);
\draw[wirestyle, dotS, dotE] ($(cli.north east)+(0,145)$) -- ($(dt.north west)+(0,72)$);
\draw[wirestyle, dotS, dotE] ($(cli.south west)+(95.5,0)$) -- ($(ins.north west)+(123,0)$);
\draw[wirestyle, dotS, dotE] ($(sch.south west)+(158,0)$) |- ($(ins.north west)+(90,-64)$) -- ($(ins.north west)+(90,0)$);
\draw[wirestyle, crossS, dotE, barbE] ($(mod.north west)+(88.8,0)$) -- ($(sch.south west)+(125.3,0)$);
\draw[wirestyle, dotS, dotE] ($(area.north east)+(0,72)$) -- ($(ia.north west)+(0,116)$);
\draw[wirestyle, dotS, dotE] ($(ia.north east)+(0,116)$) -- ($(ins.north west)+(0,130)$);
\draw[wirestyle, crossS, dotE, barbE] ($(ia.south west)+(104,0)$) -- ($(iapk.north west)+(89,0)$);
\draw[wirestyle, dotS, dotE] ($(ji.north east)+(0,87.3)$) -| ($(il.north west)+(96,0)$);
\draw[wirestyle, dotS, dotE] ($(ji.south west)+(122.5,0)$) -- ($(wd.north west)+(105,0)$);
\draw[wirestyle, dotS, dotE] ($(link.north east)+(0,72)$) -| ($(il.north west)+(64,0)$);
\draw[wirestyle, dotS, dotE] ($(ins.south west)+(122.6,0)$) -- ($(il.north west)+(128.6,0)$);
\draw[wirestyle, crossS, dotE, barbE] ($(ins.north east)+(0,130)$) -- ($(ipk.north west)+(0,42.5)$);
\draw[wirestyle, crossS, dotE, barbE] ($(il.north west)+(0,188)$) -- ($(ilpk.north east)+(0,86.5)$);
\draw[wirestyle, dotS, dotE] ($(il.north east)+(0,188)$) -- ($(year.north west)+(0,71)$);
\draw[wirestyle, dotS, dotE] ($(il.south west)+(128.6,0)$) -- ($(comp.north west)+(94.1,0)$);
\draw[wirestyle, dotS, dotE] ($(prog.north east)+(0,145)$) -- ($(comp.north west)+(0,101)$);
\draw[wirestyle, crossS, dotE, barbE] ($(comp.north east)+(0,101)$) -- ($(cpkb.north west)+(0,57)$);
\draw[wirestyle, crossS, dotE, barbE] ($(comp.south west)+(94,0)$) -- ($(lr.north west)+(108,0)$);
\draw[wirestyle, crossS, dotE, barbE] ($(lr.north west)+(0,100.5)$) -- ($(lrpk.north east)+(0,71.5)$);
\draw[wirestyle, dotS, barbS, crossE] ($(lr.north east)+(0,100.5)$) -- ($(amb.north west)+(0,145)$);
\draw[wirestyle, dotS, barbS, crossE] ($(lr.south west)+(109.5,0)$) |- ($(tp.north east)+(0,38)$);
\draw[wirestyle, dotS, barbS, crossE] ($(apk.south west)+(76,0)$) -- ($(amb.north west)+(115,0)$);
\draw[wirestyle, dotS, dotE] ($(amb.north east)+(0,145.5)$) -- ($(sede.north west)+(0,72)$);
\draw[wirestyle, dotS, dotE] ($(amb.south west)+(115,0)$) -- ($(te.north west)+(83,0)$);
\draw[wirestyle, crossS, dotE, barbE] ($(tl.north east)+(0,72)$) -- ($(prog.north west)+(0,145)$);
\draw[wirestyle, dotS, dotE] ($(prog.north west)+(0,177)$) -| ($(proy.north west)+(74.2,0)$);
\draw[wirestyle, crossS, dotE, barbE] ($(tl.south west)+(87.5,0)$) -- ($(tri.north west)+(87.5,0)$);
\draw[wirestyle, crossS, dotE, barbE] ($(prog.south west)+(69,0)$) |- ($(phase.south west)+(73.8,43)$) -- ($(phase.south west)+(73.8,0)$);
\draw[wirestyle, crossS, dotE, barbE] ($(prog.south west)+(100.2,0)$) -- ($(ppk.north west)+(76.2,0)$);
\draw[wirestyle, dotS, barbS, crossE] ($(phpk.south west)+(73.8,0)$) -- ($(phase.north west)+(73.8,0)$);
\draw[wirestyle, dotS, dotE] ($(proy.north east)+(0,87.2)$) -- ($(phase.north west)+(0,87.2)$);
\draw[wirestyle, dotS, barbS, crossE] ($(phase.north east)+(0,87.2)$) -- ($(ts.north west)+(0,58.2)$);
\draw[wirestyle, crossS, dotE, barbE] ($(pa.north east)+(0,100)$) -- ($(papk.north west)+(0,57.5)$);
\draw[wirestyle, dotS, barbS, crossE] ($(pa.south west)+(107.2,0)$) -- ($(tp.north west)+(71.7,0)$);
\draw[wirestyle, dotS, crossE] ($(tri.north east)+(0,87)$) -- ($(tp.north west)+(201,361)$);
\draw[wirestyle, dotS, barbS, crossE] ($(tpk.north east)+(0,58)$) -- ($(tri.north west)+(0,87)$);
\draw[wirestyle, dotS, dotE] ($(wd.north west)+(0,130)$) -- ($(day.north east)+(0,72)$);
\draw[wirestyle, crossS, dotE, barbE] ($(wd.north east)+(0,130)$) -| ($(tri.south west)+(87.8,0)$);

% ---------------- role names and multiplicities ----------------
\lb{l1}{east}{262,411}{-schedulePK}
\lb{l2}{south east}{136,748}{-scheduleList}
\lb{l3}{center}{133,756}{*}
\lb{l4}{west}{114,3614}{-day}
\lb{l5}{center}{397,746}{*}
\lb{l6}{north west}{394,755}{-scheduleList}
\lb{l7}{south east}{2366,749}{-scheduleVersion}
\lb{l8}{north west}{2617,755}{-scheduleVersion}
\lb{l9}{west}{3475,747}{-currentQuaterPK}
\lb{l10}{east}{3357,913}{-currentQuaterList}
\lb{l11}{center}{3370,912}{*}
\lb{l12}{west}{3370,2031}{-year}
\lb{l13}{west}{2499,916}{-scheduleVersionPK}
\lb{l14}{east}{2745,897.5}{-rolList}
\lb{l15}{center}{2757,896}{*}
\lb{l16}{center}{2744,960}{*}
\lb{l17}{west}{2756,961}{-userList}
\lb{l18}{east}{2873,1134.5}{-client}
\lb{l19}{east}{2970,930.5}{-clientPK}
\lb{l20}{west}{3062,1135}{-documentType}
\lb{l21}{west}{3080,1145.5}{-clientList}
\lb{l22}{east}{2970,1289}{-clientList}
\lb{l23}{center}{2983,1288}{*}
\lb{l24}{west}{2981,1424.5}{-instructor}
\lb{l25}{west}{2948,1424.5}{-instructor}
\lb{l26}{east}{293,1045}{-scheduleList}
\lb{l27}{center}{304,1043}{*}
\lb{l28}{east}{260,1045}{-scheduleList}
\lb{l29}{east}{701,1554.5}{-instructorAreaList}
\lb{l30}{west}{641,1565}{-area}
\lb{l31}{center}{698,1563}{*}
\lb{l32}{center}{925.5,1552}{*}
\lb{l33}{west}{924,1565}{-instructorAreaList}
\lb{l34}{east}{2847,1555}{-instructor}
\lb{l35}{west}{817,1723}{-instructorAreaPK}
\lb{l36}{center}{1233,1747}{*}
\lb{l37}{west}{1232,1759}{-journeyInstructorsList}
\lb{l38}{east}{1100,1844}{-journeyInstructor}
\lb{l39}{center}{1098,3555}{*}
\lb{l40}{west}{1109,3556.5}{-workingDayList}
\lb{l41}{center}{2786,1876}{*}
\lb{l42}{west}{2784,1888}{-linkList}
\lb{l43}{center}{2903,1914}{*}
\lb{l44}{west}{2916,1915}{-instructorLinkingList}
\lb{l45}{west}{2948,1915}{-instructorLinkingList}
\lb{l46}{west}{2981,1915}{-instructorLinkingList}
\lb{l47}{east}{2971,1695}{-instructorList}
\lb{l48}{center}{2983,1694}{*}
\lb{l49}{west}{3099,1555}{-intructorPK}
\lb{l50}{west}{2782,2113}{-instructorLinkingPK}
\lb{l51}{center}{3113,2101}{*}
\lb{l52}{west}{3112,2113.5}{-instructorLinkingList}
\lb{l53}{east}{3234,2103}{-year}
\lb{l54}{east}{2970,2301.5}{-instructorLinking}
\lb{l55}{center}{2970,2357}{*}
\lb{l56}{west}{2983,2358.5}{-competitionList}
\lb{l57}{west}{2435,2469}{-program}
\lb{l58}{east}{2875,2459.7}{-competitionList}
\lb{l59}{center}{2872,2469}{*}
\lb{l60}{west}{3059,2459.7}{-competitionPK}
\lb{l61}{center}{2970,2647}{*}
\lb{l62}{west}{2982,2648.3}{-learningResultList}
\lb{l63}{west}{2812,2759.3}{-learningResultPK}
\lb{l64}{center}{3093,2747.5}{*}
\lb{l65}{west}{3091,2759.3}{-learningResultList}
\lb{l66}{east}{2972,2862}{-learningResult}
\lb{l67}{east}{3744,2544.7}{-ambientPK}
\lb{l68}{center}{3874,2749}{*}
\lb{l69}{west}{3872,2760}{-ambientList}
\lb{l70}{east}{3919,2750}{-sede}
\lb{l71}{east}{3745,2904.7}{-ambientList}
\lb{l72}{center}{3758,2903}{*}
\lb{l73}{west}{3756,2968.4}{-typeEnvironment}
\lb{l74}{east}{2223,2458.7}{-programList}
\lb{l75}{east}{2223,2491.7}{-program}
\lb{l76}{center}{1710,2694}{*}
\lb{l77}{west}{1722,2695.7}{-proyectList}
\lb{l78}{center}{1581,3469}{*}
\lb{l79}{west}{1595,3470.7}{-trimesterList}
\lb{l80}{east}{1937,2879}{-phaseList}
\lb{l81}{center}{1949,2877}{*}
\lb{l82}{west}{2336,2966}{-programPK}
\lb{l83}{east}{1936,2642}{-phasePK}
\lb{l84}{east}{1861,2781.7}{-phaseList}
\lb{l85}{west}{1797,2793}{-proyect}
\lb{l86}{center}{1859,2791}{*}
\lb{l87}{center}{2025,2781}{*}
\lb{l88}{west}{2024,2793}{-phaseList}
\lb{l89}{west}{2702,3007.6}{-proyectActivityPK}
\lb{l90}{east}{2582,3117.5}{-proyectActivityList}
\lb{l91}{center}{2594,3117}{*}
\lb{l92}{west}{2443,3275.3}{-trimesterPlanningPK}
\lb{l93}{west}{1680,3567}{-trimester}
\lb{l94}{west}{1456,3567.3}{-trimesterPK}
\lb{l95}{east}{992,3686}{-workingDayList}
\lb{l96}{center}{989,3695}{*}
\lb{l97}{west}{210,3697}{-day}
\lb{l98}{east}{1580,3653}{-trimester}
\lb{l99}{center}{1594,3652}{*}
\end{tikzpicture}
\end{document}
